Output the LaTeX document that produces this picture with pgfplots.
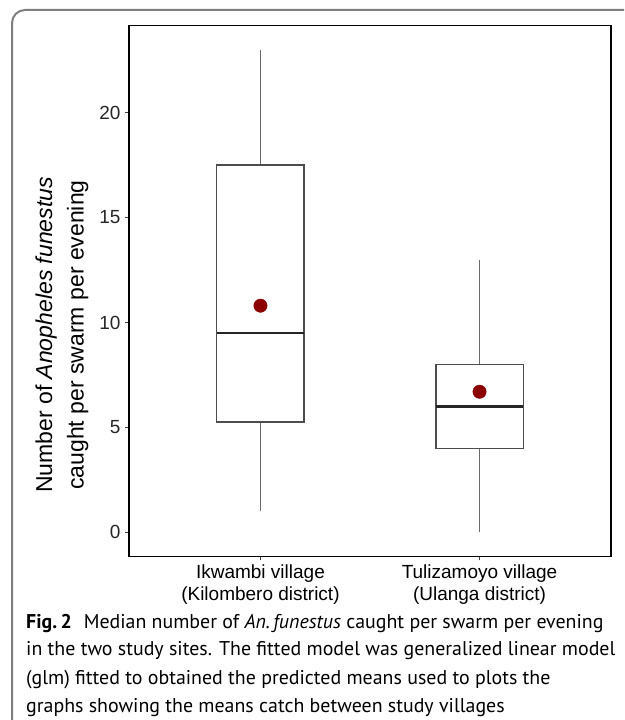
\documentclass[border=0pt]{standalone}
\usepackage{fontspec}
\setmainfont{Liberation Sans}
\newfontfamily\capfont{PT Sans}
\usepackage{pgfplots}
\pgfplotsset{compat=1.18}
\definecolor{meanred}{HTML}{8B0000}
\definecolor{boxgray}{HTML}{4D4D4D}
\definecolor{whiskgray}{HTML}{6A6A6A}
\definecolor{framegray}{HTML}{7F7F7F}
\begin{document}
\begin{tikzpicture}
\path[use as bounding box] (0pt,0pt) rectangle (624pt,720pt);
\begin{scope}
\clip (0pt,0pt) rectangle (624pt,720pt);
\draw[line width=2pt, framegray, rounded corners=13pt] (12pt,-12pt) rectangle (660pt,710pt);
\end{scope}
\begin{axis}[
  at={(129pt,163.5pt)}, anchor=south west, scale only axis,
  width=482pt, height=531pt,
  xmin=0.4, xmax=2.6, ymin=-1.15, ymax=24.15,
  ytick={0,5,10,15,20}, xtick={1,2},
  xticklabels={{Ikwambi village\\(Kilombero district)},{Tulizamoyo village\\(Ulanga district)}},
  /pgf/number format/assume math mode=true,
  tick align=outside, major tick length=4pt,
  tick pos=left,
  tick style={black!75, line width=1pt},
  axis line style={black, line width=1.6pt},
  yticklabel style={font=\fontsize{19}{19}\selectfont, text=black!85, xshift=-1pt},
  xticklabel style={font=\fontsize{19}{22}\selectfont, align=center, text=black, yshift=-1pt},
  clip=false,
]
% whiskers
\addplot[whiskgray, line width=1.5pt] coordinates {(1,17.5) (1,23)};
\addplot[whiskgray, line width=1.5pt] coordinates {(1,5.25) (1,1)};
\addplot[whiskgray, line width=1.5pt] coordinates {(2,8) (2,13)};
\addplot[whiskgray, line width=1.5pt] coordinates {(2,4) (2,0)};
% boxes (Q1 to Q3)
\addplot[boxgray, line width=1.6pt, fill=white] coordinates {(0.8,5.25) (1.2,5.25) (1.2,17.5) (0.8,17.5)} -- cycle;
\addplot[boxgray, line width=1.6pt, fill=white] coordinates {(1.8,4) (2.2,4) (2.2,8) (1.8,8)} -- cycle;
% medians
\addplot[black!85, line width=2.2pt] coordinates {(0.8,9.5) (1.2,9.5)};
\addplot[black!85, line width=2.2pt] coordinates {(1.8,6) (2.2,6)};
% predicted means
\addplot[only marks, mark=*, mark size=6.7pt, color=meanred, fill=meanred] coordinates {(1,10.8) (2,6.7)};
\end{axis}
\node[rotate=90, align=center, font=\fontsize{23}{31.5}\selectfont] at (62pt,385pt) {Number of \textit{Anopheles funestus}\\caught per swarm per evening};
\node[anchor=base west, align=left, font=\capfont\fontsize{19.9}{28}\selectfont, inner sep=0pt] at (26pt,8pt)
{\textbf{Fig.\,2}\,\, Median number of \textit{An.\,funestus} caught per swarm per evening\\in the two study sites. The fitted model was generalized linear model\\(glm) fitted to obtained the predicted means used to plots the\\graphs showing the means catch between study villages};
\end{tikzpicture}
\end{document}
